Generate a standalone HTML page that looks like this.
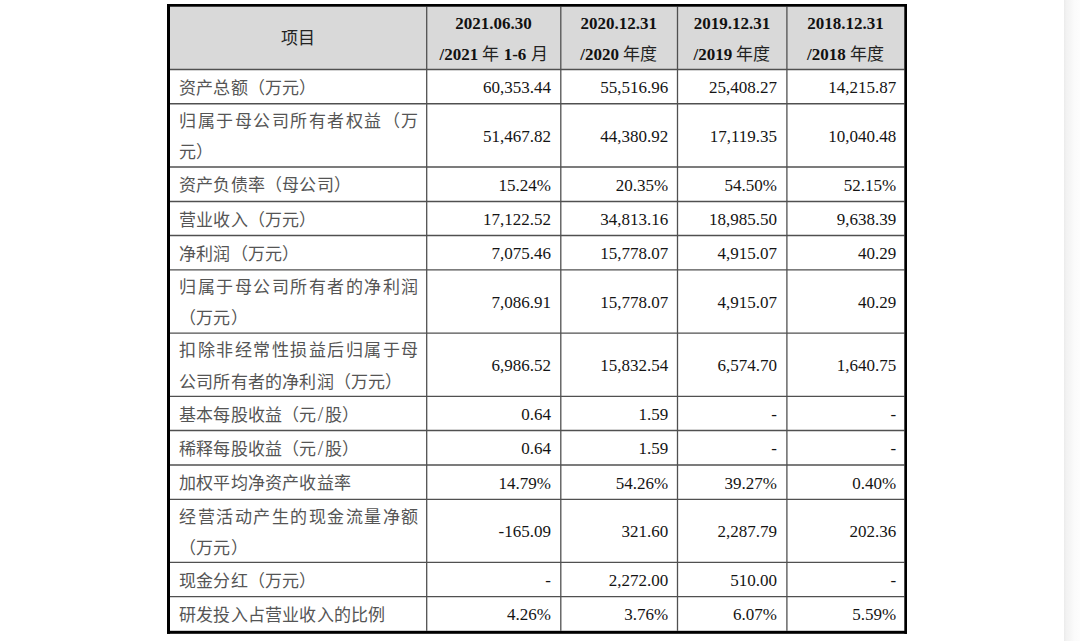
<!DOCTYPE html>
<html lang="zh-CN"><head><meta charset="utf-8"><title>table</title>
<style>
html,body{margin:0;padding:0;background:#fff;}
body{width:1080px;height:641px;overflow:hidden;position:relative;font-family:"Liberation Serif",serif;}
.l{position:absolute;background:#5a5a5a;}
.b{position:absolute;background:#000;}
.t{position:absolute;font-size:17px;color:#555;letter-spacing:0.2px;line-height:31.2px;text-align:justify;}
.n{position:absolute;font-size:17px;color:#141414;text-align:right;white-space:nowrap;line-height:20px;}
.h{position:absolute;font-size:17px;color:#111;font-weight:bold;text-align:center;white-space:nowrap;line-height:31px;}
.h i{font-style:normal;font-weight:normal;color:#222;}
.strip{position:absolute;left:1064px;top:0;width:16px;height:641px;background:linear-gradient(to right,#ebebeb,#f2f2f2 15%,#f6f6f6 40%,#fbfbfb 65%,#fdfdfd);}
</style></head><body>

<svg style="position:absolute;left:0;top:0" width="1080" height="641" viewBox="0 0 1080 641"><rect x="168" y="5" width="738" height="64.5" fill="#d9d9d9"/><line x1="170" x2="904.3" y1="69.5" y2="69.5" stroke="#505050" stroke-width="1.3"/><line x1="170" x2="904.3" y1="103.75" y2="103.75" stroke="#505050" stroke-width="1.3"/><line x1="170" x2="904.3" y1="167.0" y2="167.0" stroke="#505050" stroke-width="1.3"/><line x1="170" x2="904.3" y1="201.5" y2="201.5" stroke="#505050" stroke-width="1.3"/><line x1="170" x2="904.3" y1="235.5" y2="235.5" stroke="#505050" stroke-width="1.3"/><line x1="170" x2="904.3" y1="269.9" y2="269.9" stroke="#505050" stroke-width="1.3"/><line x1="170" x2="904.3" y1="333.2" y2="333.2" stroke="#505050" stroke-width="1.3"/><line x1="170" x2="904.3" y1="396.3" y2="396.3" stroke="#505050" stroke-width="1.3"/><line x1="170" x2="904.3" y1="430.5" y2="430.5" stroke="#505050" stroke-width="1.3"/><line x1="170" x2="904.3" y1="465.0" y2="465.0" stroke="#505050" stroke-width="1.3"/><line x1="170" x2="904.3" y1="499.4" y2="499.4" stroke="#505050" stroke-width="1.3"/><line x1="170" x2="904.3" y1="562.4" y2="562.4" stroke="#505050" stroke-width="1.3"/><line x1="170" x2="904.3" y1="596.7" y2="596.7" stroke="#505050" stroke-width="1.3"/><line x1="426.7" x2="426.7" y1="6.7" y2="630.8" stroke="#505050" stroke-width="1.3"/><line x1="560.8" x2="560.8" y1="6.7" y2="630.8" stroke="#505050" stroke-width="1.3"/><line x1="677.5" x2="677.5" y1="6.7" y2="630.8" stroke="#505050" stroke-width="1.3"/><line x1="786.9" x2="786.9" y1="6.7" y2="630.8" stroke="#505050" stroke-width="1.3"/><rect x="167" y="4" width="740" height="2.7" fill="#000"/><rect x="167" y="630.8" width="740" height="3.0" fill="#000"/><rect x="167" y="4" width="3" height="629.8" fill="#000"/><rect x="904.3" y="4" width="2.7000000000000455" height="629.8" fill="#000"/></svg>
<div class="strip"></div>
<div class="h" style="left:170px;width:256.7px;top:23.45px;"><i style="font-weight:500">项目</i></div>
<div class="h" style="left:426.7px;width:133.6px;top:7.55px;">2021.06.30<br>/2021 <i>年</i> 1-6 <i>月</i></div>
<div class="h" style="left:560.3px;width:117.1px;top:7.55px;">2020.12.31<br>/2020 <i>年度</i></div>
<div class="h" style="left:677.4px;width:109.2px;top:7.55px;">2019.12.31<br>/2019 <i>年度</i></div>
<div class="h" style="left:786.6px;width:117.7px;top:7.55px;">2018.12.31<br>/2018 <i>年度</i></div>
<div class="t" style="left:179px;width:239.5px;top:72.83px;">资产总额（万元）</div>
<div class="n" style="right:529px;top:77.92px;">60,353.44</div>
<div class="n" style="right:411.8px;top:77.92px;">55,516.96</div>
<div class="n" style="right:303px;top:77.92px;">25,408.27</div>
<div class="n" style="right:183.8px;top:77.92px;">14,215.87</div>
<div class="t" style="left:179px;width:239.5px;top:105.97px;">归属于母公司所有者权益（万元）</div>
<div class="n" style="right:529px;top:126.67px;">51,467.82</div>
<div class="n" style="right:411.8px;top:126.67px;">44,380.92</div>
<div class="n" style="right:303px;top:126.67px;">17,119.35</div>
<div class="n" style="right:183.8px;top:126.67px;">10,040.48</div>
<div class="t" style="left:179px;width:239.5px;top:170.45px;">资产负债率（母公司）</div>
<div class="n" style="right:529px;top:175.55px;">15.24%</div>
<div class="n" style="right:411.8px;top:175.55px;">20.35%</div>
<div class="n" style="right:303px;top:175.55px;">54.50%</div>
<div class="n" style="right:183.8px;top:175.55px;">52.15%</div>
<div class="t" style="left:179px;width:239.5px;top:204.7px;">营业收入（万元）</div>
<div class="n" style="right:529px;top:209.8px;">17,122.52</div>
<div class="n" style="right:411.8px;top:209.8px;">34,813.16</div>
<div class="n" style="right:303px;top:209.8px;">18,985.50</div>
<div class="n" style="right:183.8px;top:209.8px;">9,638.39</div>
<div class="t" style="left:179px;width:239.5px;top:238.9px;">净利润（万元）</div>
<div class="n" style="right:529px;top:244px;">7,075.46</div>
<div class="n" style="right:411.8px;top:244px;">15,778.07</div>
<div class="n" style="right:303px;top:244px;">4,915.07</div>
<div class="n" style="right:183.8px;top:244px;">40.29</div>
<div class="t" style="left:179px;width:239.5px;top:272.15px;">归属于母公司所有者的净利润（万元）</div>
<div class="n" style="right:529px;top:292.85px;">7,086.91</div>
<div class="n" style="right:411.8px;top:292.85px;">15,778.07</div>
<div class="n" style="right:303px;top:292.85px;">4,915.07</div>
<div class="n" style="right:183.8px;top:292.85px;">40.29</div>
<div class="t" style="left:179px;width:239.5px;top:335.35px;">扣除非经常性损益后归属于母公司所有者的净利润（万元）</div>
<div class="n" style="right:529px;top:356.05px;">6,986.52</div>
<div class="n" style="right:411.8px;top:356.05px;">15,832.54</div>
<div class="n" style="right:303px;top:356.05px;">6,574.70</div>
<div class="n" style="right:183.8px;top:356.05px;">1,640.75</div>
<div class="t" style="left:179px;width:239.5px;top:399.6px;">基本每股收益（元<span style="padding:0 1.2px;font-size:20px;line-height:1px">/</span>股）</div>
<div class="n" style="right:529px;top:404.7px;">0.64</div>
<div class="n" style="right:411.8px;top:404.7px;">1.59</div>
<div class="n" style="right:303px;top:404.7px;">-</div>
<div class="n" style="right:183.8px;top:404.7px;">-</div>
<div class="t" style="left:179px;width:239.5px;top:433.95px;">稀释每股收益（元<span style="padding:0 1.2px;font-size:20px;line-height:1px">/</span>股）</div>
<div class="n" style="right:529px;top:439.05px;">0.64</div>
<div class="n" style="right:411.8px;top:439.05px;">1.59</div>
<div class="n" style="right:303px;top:439.05px;">-</div>
<div class="n" style="right:183.8px;top:439.05px;">-</div>
<div class="t" style="left:179px;width:239.5px;top:468.4px;">加权平均净资产收益率</div>
<div class="n" style="right:529px;top:473.5px;">14.79%</div>
<div class="n" style="right:411.8px;top:473.5px;">54.26%</div>
<div class="n" style="right:303px;top:473.5px;">39.27%</div>
<div class="n" style="right:183.8px;top:473.5px;">0.40%</div>
<div class="t" style="left:179px;width:239.5px;top:501.5px;">经营活动产生的现金流量净额（万元）</div>
<div class="n" style="right:529px;top:522.2px;">-165.09</div>
<div class="n" style="right:411.8px;top:522.2px;">321.60</div>
<div class="n" style="right:303px;top:522.2px;">2,287.79</div>
<div class="n" style="right:183.8px;top:522.2px;">202.36</div>
<div class="t" style="left:179px;width:239.5px;top:565.75px;">现金分红（万元）</div>
<div class="n" style="right:529px;top:570.85px;">-</div>
<div class="n" style="right:411.8px;top:570.85px;">2,272.00</div>
<div class="n" style="right:303px;top:570.85px;">510.00</div>
<div class="n" style="right:183.8px;top:570.85px;">-</div>
<div class="t" style="left:179px;width:239.5px;top:600.2px;">研发投入占营业收入的比例</div>
<div class="n" style="right:529px;top:605.3px;">4.26%</div>
<div class="n" style="right:411.8px;top:605.3px;">3.76%</div>
<div class="n" style="right:303px;top:605.3px;">6.07%</div>
<div class="n" style="right:183.8px;top:605.3px;">5.59%</div>
</body></html>
